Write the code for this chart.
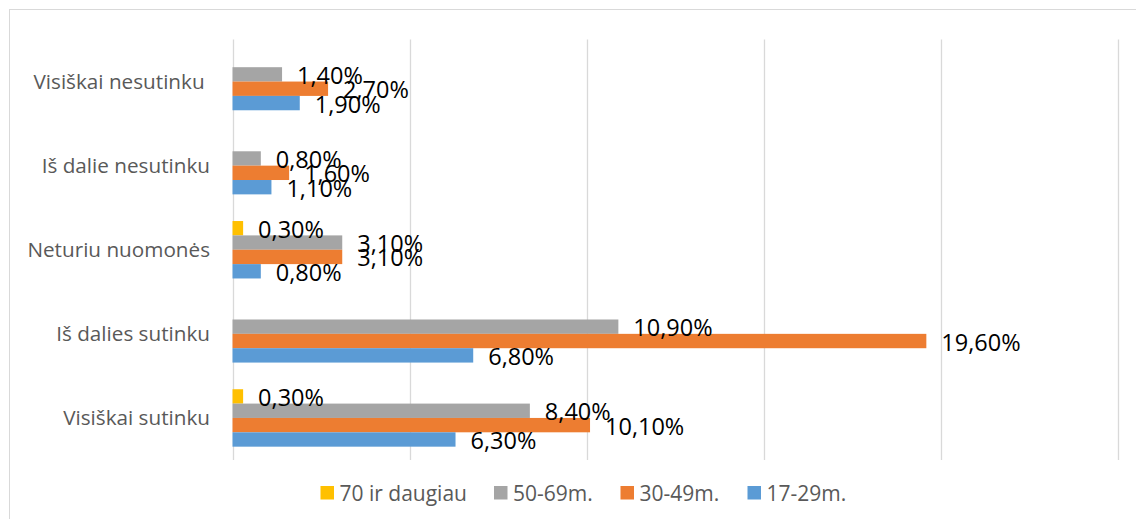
<!DOCTYPE html>
<html>
<head>
<meta charset="utf-8">
<script src="https://cdn.jsdelivr.net/npm/d3@7"></script>
<style>
  body { margin: 0; background: #fff; }
  text { font-family: 'Open Sans', 'Noto Sans', sans-serif; }
</style>
</head>
<body>
<div class="container"></div>
<script>
// kategorijos, iš viršaus į apačią
var categories = [
  'Visiškai nesutinku ',
  'Iš dalie nesutinku',
  'Neturiu nuomonės',
  'Iš dalies sutinku',
  'Visiškai sutinku'
];

// serijos - grupėje iš viršaus į apačią
var seriesNames = ['70 ir daugiau', '50-69m.', '30-49m.', '17-29m.'];
var seriesColors = ['#FFC000', '#A5A5A5', '#ED7D31', '#5B9BD5'];

// reikšmės procentais (null = nėra stulpelio)
var v70 = [null, null, 0.3, null, 0.3];
var v50_69 = [1.4, 0.8, 3.1, 10.9, 8.4];
var v30_49 = [2.7, 1.6, 3.1, 19.6, 10.1];
var v17_29 = [1.9, 1.1, 0.8, 6.8, 6.3];

var xTicks = [0, 5, 10, 15, 20, 25];

var seriesValues = [v70, v50_69, v30_49, v17_29];

var width = 1136,
  height = 519;

var margin = {
  top: 39.5,
  right: 18.5,
  bottom: 59,
  left: 232.5
};

var svg = d3
  .select('.container')
  .append('svg')
  .attr('width', width)
  .attr('height', height);

// rėmelis aplink diagramą
svg
  .append('rect')
  .attr('x', 9.5)
  .attr('y', 9.5)
  .attr('width', 1200)
  .attr('height', 600)
  .attr('fill', 'none')
  .attr('stroke', '#d9d9d9')
  .attr('stroke-width', 1);

var x = d3
  .scaleLinear()
  .domain([0, 25])
  .range([margin.left, width - margin.right]);

var y = d3
  .scaleBand()
  .domain(categories)
  .range([margin.top, height - margin.bottom])
  .paddingInner(0.317)
  .paddingOuter(0.1585);

var ySub = d3
  .scaleBand()
  .domain(seriesNames)
  .range([0, y.bandwidth()]);

// tinklelis
svg
  .append('g')
  .attr('class', 'grid')
  .selectAll('line')
  .data(xTicks)
  .enter()
  .append('line')
  .attr('x1', function (d) {
    return Math.round(x(d)) + 0.5;
  })
  .attr('x2', function (d) {
    return Math.round(x(d)) + 0.5;
  })
  .attr('y1', margin.top)
  .attr('y2', height - margin.bottom)
  .attr('stroke', '#d9d9d9')
  .attr('stroke-width', 1.3);

// kategorijų pavadinimai
svg
  .append('g')
  .selectAll('text')
  .data(categories)
  .enter()
  .append('text')
  .attr('x', 210)
  .attr('y', function (d) {
    return y(d) + y.bandwidth() / 2 + 7.5;
  })
  .attr('text-anchor', 'end')
  .attr('fill', '#595959')
  .style('font-size', '20.7px')
  .style('white-space', 'pre')
  .text(function (d) {
    return d;
  });

// stulpeliai
var bars = [];
seriesNames.forEach(function (s, si) {
  seriesValues[si].forEach(function (v, ci) {
    if (v != null) {
      bars.push({ series: s, si: si, cat: categories[ci], value: v });
    }
  });
});

var fmt = function (v) {
  return v.toFixed(2).replace('.', ',') + '%';
};

svg
  .append('g')
  .selectAll('rect')
  .data(bars)
  .enter()
  .append('rect')
  .attr('x', x(0))
  .attr('y', function (d) {
    return y(d.cat) + ySub(d.series);
  })
  .attr('width', function (d) {
    return x(d.value) - x(0);
  })
  .attr('height', ySub.bandwidth())
  .attr('fill', function (d) {
    return seriesColors[d.si];
  });

svg
  .append('g')
  .selectAll('text')
  .data(bars)
  .enter()
  .append('text')
  .attr('x', function (d) {
    return x(d.value) + 15;
  })
  .attr('y', function (d) {
    return y(d.cat) + ySub(d.series) + ySub.bandwidth() / 2 + 9.5;
  })
  .attr('fill', '#000')
  .style('font-size', '23.5px')
  .text(function (d) {
    return fmt(d.value);
  });

// legenda
var legendX = [320.5, 494, 620.5, 747.5];
var legend = svg
  .append('g')
  .selectAll('g')
  .data(seriesNames)
  .enter()
  .append('g')
  .attr('transform', function (d, i) {
    return 'translate(' + legendX[i] + ',486)';
  });

legend
  .append('rect')
  .attr('width', 13.5)
  .attr('height', 13.5)
  .attr('fill', function (d, i) {
    return seriesColors[i];
  });

legend
  .append('text')
  .attr('x', 19)
  .attr('y', 14.5)
  .attr('fill', '#595959')
  .style('font-size', '21px')
  .text(function (d) {
    return d;
  });
</script>
</body>
</html>
